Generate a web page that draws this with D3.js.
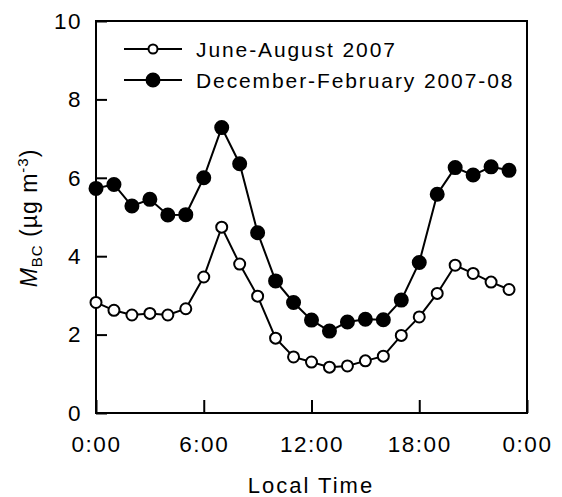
<!DOCTYPE html>
<html>
<head>
<meta charset="utf-8">
<script src="https://cdn.jsdelivr.net/npm/d3@7"></script>
<style>
  body { margin: 0; background: white; }
  text { font-family: "Liberation Sans", Arial, sans-serif; fill: #000; }
</style>
</head>
<body>
<div id="container"></div>
<script>
let w = 562;
let h = 497;

// data
let hours = [0, 1, 2, 3, 4, 5, 6, 7, 8, 9, 10, 11, 12, 13, 14, 15, 16, 17, 18, 19, 20, 21, 22, 23];
let summer = [2.82, 2.62, 2.50, 2.54, 2.50, 2.66, 3.47, 4.74, 3.80, 2.98, 1.91, 1.43, 1.30, 1.17, 1.20, 1.33, 1.45, 1.98, 2.45, 3.05, 3.77, 3.56, 3.34, 3.15];
let winter = [5.73, 5.83, 5.28, 5.45, 5.05, 5.06, 6.00, 7.28, 6.36, 4.60, 3.37, 2.82, 2.37, 2.09, 2.32, 2.39, 2.38, 2.88, 3.84, 5.58, 6.26, 6.07, 6.28, 6.19];
let xTicks = [0, 6, 12, 18, 24];
let yTicks = [0, 2, 4, 6, 8, 10];
let seriesNames = ["June-August 2007", "December-February 2007-08"];

let margin = {left: 96, right: 35, top: 21, bottom: 84};

let viz = d3.select("#container")
  .append("svg")
    .attr("width", w)
    .attr("height", h)
    .style("background-color", "white")
;

let xScale = d3.scaleLinear().domain([0, 24]).range([margin.left, w - margin.right]);
let yScale = d3.scaleLinear().domain([0, 10]).range([h - margin.bottom, margin.top]);

// axes, ticks pointing inward
let xAxis = d3.axisBottom(xScale)
  .tickValues(xTicks)
  .tickSizeInner(-13)
  .tickSizeOuter(0)
  .tickPadding(23)
  .tickFormat(d => (d % 24) + ":00");

let yAxis = d3.axisLeft(yScale)
  .tickValues(yTicks)
  .tickSizeInner(-11)
  .tickSizeOuter(0)
  .tickPadding(14);

let gx = viz.append("g")
  .attr("transform", "translate(0," + yScale(0) + ")")
  .call(xAxis);
let gy = viz.append("g")
  .attr("transform", "translate(" + xScale(0) + ",0)")
  .call(yAxis);

[gx, gy].forEach(g => {
  g.select(".domain").remove();
  g.selectAll(".tick line").attr("stroke", "#000").attr("stroke-width", 2);
  g.selectAll(".tick text")
    .style("font-family", "'Liberation Sans', Arial, sans-serif")
    .style("font-size", "22.5px")
    .style("letter-spacing", "1.5px")
    .attr("fill", "#000");
});

// frame
viz.append("rect")
  .attr("x", xScale(0))
  .attr("y", yScale(10))
  .attr("width", xScale(24) - xScale(0))
  .attr("height", yScale(0) - yScale(10))
  .attr("fill", "none")
  .attr("stroke", "#000")
  .attr("stroke-width", 2);

let line = d3.line()
  .x((d, i) => xScale(hours[i]))
  .y(d => yScale(d));

function drawSeries(values, filled) {
  let g = viz.append("g");
  g.append("path")
    .datum(values)
    .attr("d", line)
    .attr("fill", "none")
    .attr("stroke", "#000")
    .attr("stroke-width", 2);
  g.selectAll("circle").data(values).enter()
    .append("circle")
      .attr("cx", (d, i) => xScale(hours[i]))
      .attr("cy", d => yScale(d))
      .attr("r", filled ? 6.5 : 5.5)
      .attr("fill", filled ? "#000" : "#fff")
      .attr("stroke", "#000")
      .attr("stroke-width", 2);
}

drawSeries(summer, false);
drawSeries(winter, true);

// legend
let legend = viz.append("g");
seriesNames.forEach((name, i) => {
  let ly = 49 + i * 31;
  legend.append("line")
    .attr("x1", 124).attr("x2", 182)
    .attr("y1", ly).attr("y2", ly)
    .attr("stroke", "#000").attr("stroke-width", 2);
  legend.append("circle")
    .attr("cx", 153).attr("cy", ly)
    .attr("r", i == 0 ? 4.5 : 6.5)
    .attr("fill", i == 0 ? "#fff" : "#000")
    .attr("stroke", "#000").attr("stroke-width", 2);
  legend.append("text")
    .attr("x", 196)
    .attr("y", ly + 8)
    .style("font-size", "21px")
    .style("letter-spacing", "1.9px")
    .text(name);
});

// axis titles
viz.append("text")
  .attr("x", 311)
  .attr("y", 493)
  .attr("text-anchor", "middle")
  .style("font-size", "22px")
  .style("letter-spacing", "2px")
  .text("Local Time");

let yTitle = viz.append("text")
  .attr("transform", "translate(37,218) rotate(-90)")
  .attr("text-anchor", "middle")
  .style("font-size", "23px")
  .style("letter-spacing", "1px");
yTitle.append("tspan").style("font-style", "italic").text("M");
yTitle.append("tspan").attr("dy", 5).style("font-size", "15px").text("BC");
yTitle.append("tspan").attr("dy", -5).text(" (\u00b5g m");
yTitle.append("tspan").attr("dy", -9).style("font-size", "15px").text("-3");
yTitle.append("tspan").attr("dy", 9).text(")");
</script>
</body>
</html>
